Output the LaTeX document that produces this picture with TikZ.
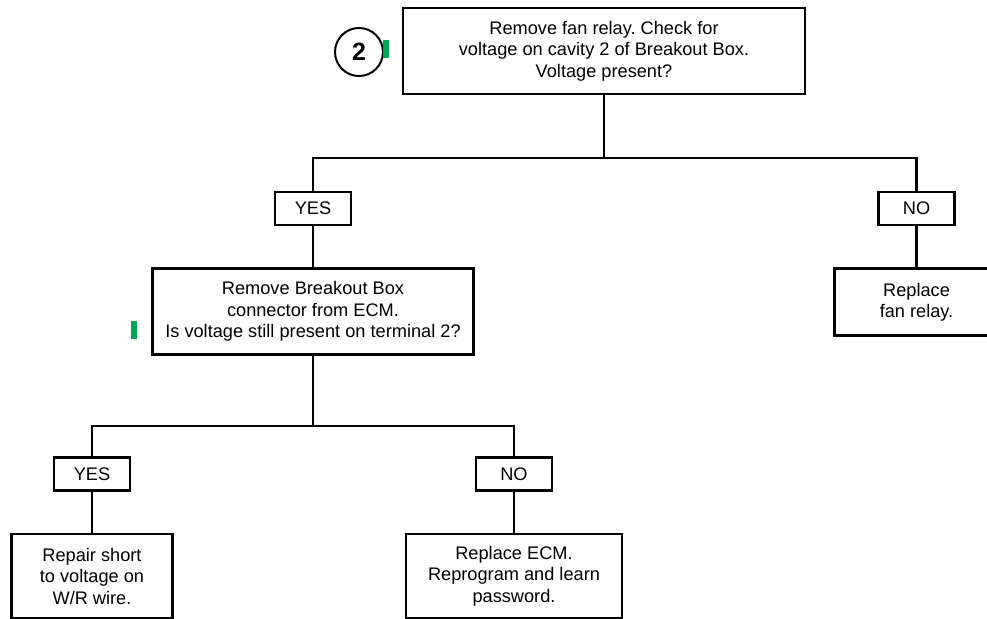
\documentclass[tikz,border=0pt]{standalone}
\usepackage{fontspec}
\setmainfont{Liberation Sans}
\usetikzlibrary{positioning}
\definecolor{markgreen}{RGB}{0,166,81}
\frenchspacing

\begin{document}
\begin{tikzpicture}[
x=1pt, y=-1pt,
node distance=41pt,
box/.style={draw, line width=2.6pt, align=center, inner sep=0pt, font=\fontsize{18.2}{21.5}\selectfont},
ans/.style={draw, line width=2.6pt, minimum width=76pt, minimum height=33pt, inner sep=0pt, font=\fontsize{18.2}{20}\selectfont},
link/.style={line width=2.3pt},
tag/.style={fill=markgreen, minimum width=6pt, minimum height=18pt, inner sep=0pt}
]
\useasboundingbox (0,0) rectangle (987,618);
\node[box, minimum width=402pt, minimum height=86pt] (check) at (604,51) {Remove fan relay. Check for\\ voltage on cavity 2 of Breakout Box.\\ Voltage present?};
\node[draw, circle, line width=2pt, minimum size=48pt, inner sep=0pt, font=\fontsize{25}{25}\selectfont\bfseries] (num) at (359,52) {2};
\node[tag] (tag1) at (386,49) {};
\node[ans] (yes1) at (313,208.5) {YES};
\node[ans] (no1) at (916.5,208.5) {NO};
\node[box, minimum width=321pt, minimum height=86pt, below=of yes1] (remove) {Remove Breakout Box\\ connector from ECM.\\ Is voltage still present on terminal 2?};
\node[box, minimum width=164pt, minimum height=67pt, below=of no1] (fan) {Replace\\ fan relay.};
\node[tag] (tag2) at (134,329.5) {};
\node[ans] (yes2) at (92,474) {YES};
\node[ans] (no2) at (514,474) {NO};
\node[box, minimum width=161pt, minimum height=84pt, below=of yes2] (repair) {Repair short\\ to voltage on\\ W/R wire.};
\node[box, minimum width=216pt, minimum height=84pt, below=of no2] (ecm) {Replace ECM.\\ Reprogram and learn\\ password.};
% first split
\coordinate (fork1) at (check.south |- 0,158);
\draw[link] (check.south) -- (fork1);
\draw[link] (yes1.north) |- (fork1) -| (no1.north);
\draw[link] (yes1) -- (remove);
\draw[link] (no1) -- (fan);
% second split
\coordinate (fork2) at (remove.south |- 0,426);
\draw[link] (remove.south) -- (fork2);
\draw[link] (yes2.north) |- (fork2) -| (no2.north);
\draw[link] (yes2) -- (repair);
\draw[link] (no2) -- (ecm);
\end{tikzpicture}
\end{document}
